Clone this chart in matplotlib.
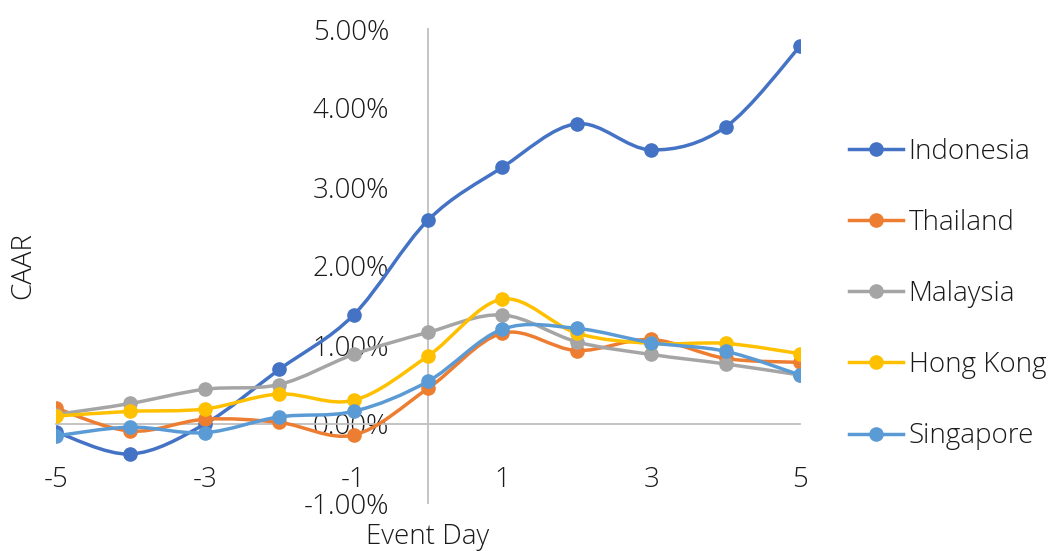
import matplotlib
matplotlib.use("Agg")
import matplotlib.pyplot as plt
from matplotlib.path import Path
from matplotlib.patches import PathPatch
from matplotlib.lines import Line2D
from matplotlib.ticker import FuncFormatter

# event window
days = [-5, -4, -3, -2, -1, 0, 1, 2, 3, 4, 5]

# CAAR in percent
indonesia = [-0.10, -0.38, 0.00, 0.69, 1.38, 2.58, 3.25, 3.80, 3.47, 3.76, 4.78]
thailand = [0.20, -0.09, 0.06, 0.02, -0.14, 0.45, 1.15, 0.93, 1.07, 0.83, 0.78]
malaysia = [0.12, 0.26, 0.44, 0.50, 0.88, 1.16, 1.38, 1.04, 0.88, 0.76, 0.62]
hong_kong = [0.10, 0.16, 0.19, 0.38, 0.30, 0.86, 1.58, 1.15, 1.02, 1.02, 0.89]
singapore = [-0.15, -0.04, -0.11, 0.09, 0.16, 0.54, 1.20, 1.21, 1.03, 0.92, 0.62]

series_names = ["Indonesia", "Thailand", "Malaysia", "Hong Kong", "Singapore"]
series_values = [indonesia, thailand, malaysia, hong_kong, singapore]
series_colors = ["#4472C4", "#ED7D31", "#A5A5A5", "#FFC000", "#5B9BD5"]

xticks = [-5, -3, -1, 1, 3, 5]
yticks = [-1, 0, 1, 2, 3, 4, 5]

plt.rcParams["font.family"] = "Open Sans"
plt.rcParams["font.weight"] = "light"
plt.rcParams["axes.unicode_minus"] = False
FS = 20
TXT = "#1a1a1a"


def smooth_path(xs, ys):
    # excel style smoothed line: cubic bezier through every point
    pts = list(zip(xs, ys))
    n = len(pts)
    verts = [pts[0]]
    codes = [Path.MOVETO]
    for i in range(n - 1):
        p0 = pts[i - 1] if i > 0 else pts[i]
        p1 = pts[i]
        p2 = pts[i + 1]
        p3 = pts[i + 2] if i + 2 < n else pts[i + 1]
        c1 = (p1[0] + (p2[0] - p0[0]) / 6, p1[1] + (p2[1] - p0[1]) / 6)
        c2 = (p2[0] - (p3[0] - p1[0]) / 6, p2[1] - (p3[1] - p1[1]) / 6)
        verts += [c1, c2, p2]
        codes += [Path.CURVE4] * 3
    return Path(verts, codes)


fig = plt.figure(figsize=(10.51, 5.51), dpi=100)
ax = fig.add_axes([56 / 1051, 48 / 551, 744 / 1051, 474 / 551])

ax.set_xlim(-5, 5)
ax.set_ylim(-1, 5)

for spine in ["top", "right"]:
    ax.spines[spine].set_visible(False)
ax.spines["left"].set_position(("data", 0))
ax.spines["bottom"].set_position(("data", 0))
for spine in ["left", "bottom"]:
    ax.spines[spine].set_color("#BFBFBF")
    ax.spines[spine].set_linewidth(1.3)

ax.set_xticks(xticks)
ax.set_yticks(yticks)
ax.yaxis.set_major_formatter(FuncFormatter(lambda v, p: "%.2f%%" % v))
ax.tick_params(axis="both", length=0, labelsize=FS, labelcolor=TXT)
ax.tick_params(axis="y", pad=28)
ax.tick_params(axis="x", pad=30)

handles = []
for k, (name, vals, col) in enumerate(zip(series_names, series_values, series_colors)):
    patch = PathPatch(smooth_path(days, vals), facecolor="none", edgecolor=col,
                      linewidth=2.5, capstyle="round", joinstyle="round", zorder=3 + k)
    ax.add_patch(patch)
    ax.plot(days, vals, linestyle="none", marker="o", markersize=9.5,
            color=col, zorder=3 + k)
    handles.append(Line2D([], [], color=col, linewidth=2.5, marker="o", markersize=9.5))

fig.legend(handles, series_names, loc="upper left", bbox_to_anchor=(824 / 1051, 1 - 113 / 551),
           frameon=False, fontsize=FS, labelspacing=1.55, handlelength=1.95,
           handletextpad=0.2, labelcolor=TXT)

fig.text(428 / 1051, 1 - 537 / 551, "Event Day", ha="center", va="center",
         fontsize=FS, color=TXT)
fig.text(23 / 1051, 1 - 266 / 551, "CAAR", ha="center", va="center",
         rotation=90, fontsize=FS, color=TXT)

fig.savefig("out.png", dpi=100)
